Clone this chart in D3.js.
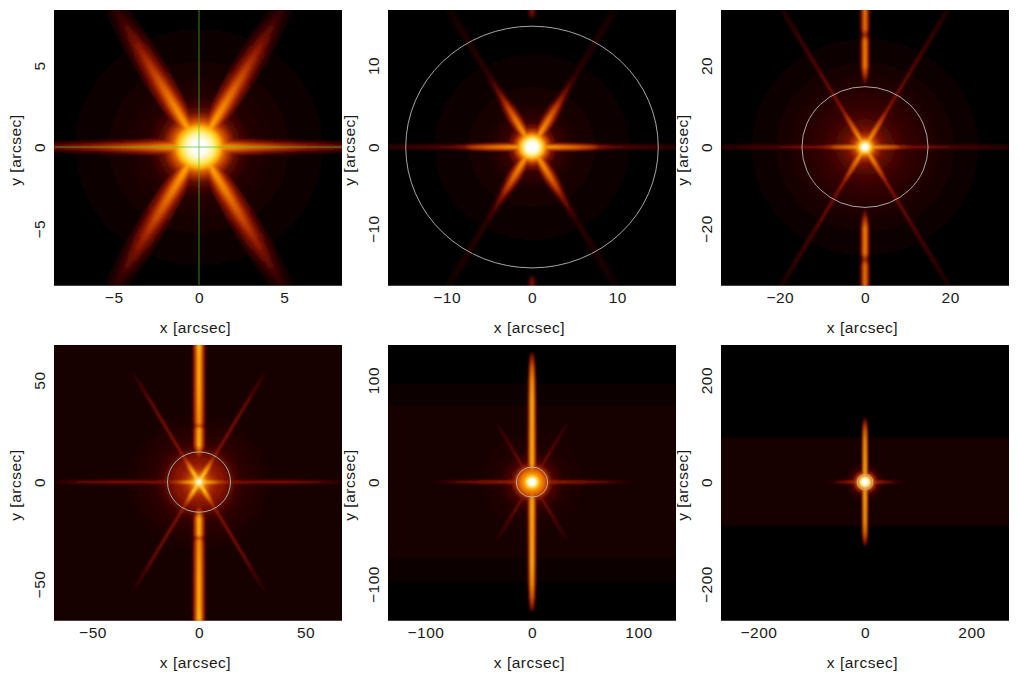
<!DOCTYPE html>
<html>
<head>
<meta charset="utf-8">
<script src="https://cdn.jsdelivr.net/npm/d3@7"></script>
<style>
  html, body { margin: 0; background: #fff; }
  text { font-family: "Liberation Sans", sans-serif; font-size: 15.5px; letter-spacing: 0.5px; fill: #1a1a1a; }
</style>
</head>
<body>
<div id="chart"></div>
<script>
// half width of every panel, arcsec
var halfRange = [8.44, 16.88, 33.8, 67.6, 135.2, 270.4];
var xTicks = [[-5, 0, 5], [-10, 0, 10], [-20, 0, 20], [-50, 0, 50], [-100, 0, 100], [-200, 0, 200]];
var yTicks = [[-5, 0, 5], [-10, 0, 10], [-20, 0, 20], [-50, 0, 50], [-100, 0, 100], [-200, 0, 200]];
var xLabel = "x [arcsec]";
var yLabel = "y [arcsec]";

// radius of the extraction circle (none in the first panel, that one has a crosshair)
var circleRadius = [null, 14.8, 14.8, 14.8, 14.8, 14.8];

// core + halo, radial profile: radius (arcsec) and colour level 0..1
var coreR = [
  [0, 0.4, 0.8, 1.05, 1.3, 1.45, 1.8, 2.2, 3, 5, 8.4],
  [0, 0.6, 1, 1.25, 1.5, 1.8, 2.3, 3, 5, 8, 14],
  [0, 0.7, 1, 1.4, 1.9, 2.6, 4, 6, 10, 15, 20, 30],
  [0, 1, 2, 3.5, 5, 7, 10, 13, 15, 20, 35],
  [0, 3, 5, 7, 10, 13, 15.5, 19, 30, 60],
  [0, 6, 9, 12, 15, 19, 25, 40]
];
var coreL = [
  [1, 1, 0.93, 0.84, 0.72, 0.56, 0.38, 0.2, 0.1, 0.05, 0],
  [1, 1, 0.9, 0.8, 0.68, 0.48, 0.28, 0.14, 0.07, 0.04, 0],
  [1, 1, 0.9, 0.78, 0.62, 0.42, 0.27, 0.19, 0.13, 0.09, 0.05, 0],
  [1, 0.95, 0.78, 0.58, 0.44, 0.36, 0.3, 0.26, 0.2, 0.12, 0.06],
  [1, 1, 0.85, 0.72, 0.6, 0.48, 0.36, 0.18, 0.09, 0.05],
  [1, 1, 0.85, 0.68, 0.5, 0.3, 0.14, 0.05]
];

// the four diagonal spikes: radius, full width (arcsec), level
var diagR = [
  [0.8, 2, 3, 4, 5, 6, 7, 8, 9, 10],
  [1, 2.5, 4, 5.5, 7, 8.5, 10.5, 13, 16, 20],
  [1, 4, 7, 10, 16, 22, 30, 36, 42],
  [2, 5, 8, 11, 14, 20, 30, 45, 55, 64],
  [6, 12, 16, 22, 35, 50, 62, 72],
  [10, 18, 26, 36, 50]
];
var diagW = [
  [1, 1.2, 1.4, 1.5, 1.6, 1.6, 1.6, 1.5, 1.4, 1.3],
  [1.1, 1.5, 1.7, 1.6, 1.3, 1.1, 1, 1, 1.1, 1.1],
  [1.6, 2.2, 1.8, 1.4, 1.2, 1.2, 1.3, 1.4, 1.4],
  [3, 4.5, 4.5, 3.5, 3, 2.6, 2.4, 2.4, 2.4, 2.4],
  [6, 6, 5, 4, 4, 4, 4, 4],
  [10, 8, 7, 7, 7]
];
var diagL = [
  [0.74, 0.68, 0.62, 0.54, 0.46, 0.38, 0.3, 0.22, 0.15, 0.08],
  [0.72, 0.66, 0.58, 0.46, 0.3, 0.2, 0.12, 0.1, 0.08, 0.04],
  [0.8, 0.62, 0.48, 0.34, 0.26, 0.22, 0.16, 0.12, 0.05],
  [0.88, 0.8, 0.66, 0.5, 0.36, 0.3, 0.28, 0.24, 0.18, 0.08],
  [0.5, 0.4, 0.32, 0.28, 0.24, 0.2, 0.14, 0.06],
  [0.36, 0.2, 0.14, 0.12, 0.06]
];

// the two horizontal spikes
var horzR = [
  [0.8, 2, 3, 4, 5, 6, 7, 8, 9],
  [1, 3, 5, 7, 8, 10, 12, 15, 18],
  [1, 4, 7, 8.5, 11, 15, 20, 28, 35],
  [2, 6, 9, 12, 15, 25, 40, 55, 65, 70],
  [6, 14, 25, 45, 65, 85, 100],
  [10, 20, 35, 50, 65, 90]
];
var horzW = [
  [1.1, 1.1, 1, 0.9, 0.9, 0.8, 0.8, 0.7, 0.7],
  [1.1, 1.1, 1, 0.9, 0.8, 0.8, 0.8, 0.8, 0.8],
  [1.4, 1.5, 1.4, 1.2, 1.2, 1.3, 1.4, 1.4, 1.4],
  [3, 3, 3, 2.6, 2.6, 2.6, 2.6, 2.6, 2.6, 2.6],
  [6, 5, 5, 4.5, 4.5, 4.5, 4.5],
  [10, 8, 8, 8, 8, 8]
];
var horzL = [
  [0.74, 0.64, 0.56, 0.5, 0.42, 0.36, 0.3, 0.26, 0.24],
  [0.72, 0.66, 0.58, 0.46, 0.3, 0.2, 0.18, 0.15, 0.09],
  [0.82, 0.66, 0.54, 0.4, 0.3, 0.28, 0.2, 0.16, 0.1],
  [0.88, 0.72, 0.55, 0.42, 0.32, 0.28, 0.28, 0.22, 0.14, 0.08],
  [0.6, 0.42, 0.36, 0.32, 0.24, 0.14, 0.05],
  [0.6, 0.42, 0.32, 0.22, 0.12, 0.04]
];

// the readout streak along y, mirrored up and down
var streakR = [
  [15.5, 16.5, 17.2],
  [15.5, 16.5, 17.2],
  [14, 16, 18, 20, 26, 27.5, 29, 34],
  [12, 15, 18, 26, 27.5, 29, 40, 50, 60, 68],
  [12, 18, 30, 50, 80, 100, 112, 120, 126],
  [10, 20, 50, 80, 100, 110, 118, 124]
];
var streakW = [
  [0.6, 0.6, 0.6],
  [0.9, 1, 1],
  [1.6, 1.8, 2, 2.1, 2.1, 2, 2.1, 2.1],
  [5, 5.5, 5.5, 5.5, 5.5, 5.5, 5.5, 5.5, 5.5, 5.5],
  [8, 8, 8, 7.5, 7, 6.5, 6, 5, 4.5],
  [11, 11, 10.5, 10, 9.5, 9, 8, 8]
];
var streakL = [
  [0, 0, 0],
  [0, 0.28, 0.2],
  [0, 0.2, 0.44, 0.62, 0.62, 0.36, 0.58, 0.58],
  [0.3, 0.48, 0.76, 0.74, 0.48, 0.68, 0.72, 0.74, 0.74, 0.78],
  [0.6, 0.76, 0.76, 0.76, 0.78, 0.72, 0.58, 0.42, 0.22],
  [0.76, 0.78, 0.76, 0.74, 0.62, 0.48, 0.34, 0.18]
];

// wide faint strip along x: y extent and level, panels 1-3 have none
var bandY = [null, null, null, [-68, 68], [-110, -72, 72, 110], [-92, -84, 84, 92]];
var bandL = [null, null, null, [0.055, 0.055], [0, 0.05, 0.05, 0], [0, 0.05, 0.05, 0]];

var W = 1019, H = 682;
var panelX = [54, 388, 721, 54, 388, 721];
var panelY = [10, 10, 10, 345, 345, 345];
var panelW = 288, panelH = 275.7;
// the image centre sits a little off the middle of some panels
var centreDx = [1, 0, 0, 1, 0, 0];
var centreDy = [-0.8, -0.8, -0.8, -0.8, -0.8, -0.8];
// softening of the image, px
var softness = [1.1, 1, 0.8, 0.9, 0.9, 0.9];

var colour = d3.scaleLinear()
  .domain([0, 0.12, 0.3, 0.5, 0.7, 0.85, 1])
  .range(["#000000", "#2e0000", "#8a1400", "#d65400", "#ff9c00", "#ffe63c", "#ffffff"]);

var svg = d3.select("#chart").append("svg")
  .attr("width", W)
  .attr("height", H)
  .style("display", "block");
var defs = svg.append("defs");

var gradCount = 0;

// one spike as a polygon along the direction angle, coloured by a gradient made of its levels
function drawArm(g, x, y, angle, r, w, l, widthFactor, levelFactor) {
  var cx = Math.cos(angle * Math.PI / 180), cy = Math.sin(angle * Math.PI / 180);
  var id = "arm" + (gradCount++);
  var r0 = r[0], rN = r[r.length - 1];
  var grad = defs.append("linearGradient").attr("id", id)
    .attr("gradientUnits", "userSpaceOnUse")
    .attr("x1", x(r0 * cx)).attr("y1", y(r0 * cy))
    .attr("x2", x(rN * cx)).attr("y2", y(rN * cy));
  grad.selectAll("stop").data(r).enter().append("stop")
    .attr("offset", function(d) { return (d - r0) / (rN - r0); })
    .attr("stop-color", function(d, i) { return colour(l[i] * levelFactor); });

  var left = r.map(function(d, i) {
    var h = w[i] * widthFactor / 2;
    return [d * cx - h * cy, d * cy + h * cx];
  });
  var right = r.map(function(d, i) {
    var h = w[i] * widthFactor / 2;
    return [d * cx + h * cy, d * cy - h * cx];
  }).reverse();
  var line = d3.line().x(function(d) { return x(d[0]); }).y(function(d) { return y(d[1]); });

  g.append("path")
    .attr("d", line(left.concat(right)) + "Z")
    .attr("fill", "url(#" + id + ")")
    .style("mix-blend-mode", "lighten");
}

// transverse profile of a spike: wide and dim outside, narrow and bright inside
var armWidths = [1, 0.7, 0.45, 0.22];
var armLevels = [0.38, 0.58, 0.8, 1];

halfRange.forEach(function(range, i) {
  var x = d3.scaleLinear().domain([-range, range])
    .range([panelX[i] + centreDx[i], panelX[i] + panelW + centreDx[i]]);
  var y = d3.scaleLinear().domain([-range, range])
    .range([panelY[i] + panelH + centreDy[i], panelY[i] + centreDy[i]]);

  defs.append("filter").attr("id", "soft" + i)
    .attr("x", "-10%").attr("y", "-10%").attr("width", "120%").attr("height", "120%")
    .append("feGaussianBlur").attr("stdDeviation", softness[i]);

  defs.append("clipPath").attr("id", "clip" + i).append("rect")
    .attr("x", panelX[i]).attr("y", panelY[i]).attr("width", panelW).attr("height", panelH);

  var panel = svg.append("g").attr("clip-path", "url(#clip" + i + ")");
  var image = panel.append("g").attr("filter", "url(#soft" + i + ")");

  image.append("rect")
    .attr("x", panelX[i] - 20).attr("y", panelY[i] - 20)
    .attr("width", panelW + 40).attr("height", panelH + 40)
    .attr("fill", "#000");

  // faint strip
  if (bandY[i]) {
    var bid = "band" + i;
    var by = bandY[i], y0 = by[0], y1 = by[by.length - 1];
    var bgrad = defs.append("linearGradient").attr("id", bid)
      .attr("gradientUnits", "userSpaceOnUse")
      .attr("x1", 0).attr("x2", 0).attr("y1", y(y0)).attr("y2", y(y1));
    bgrad.selectAll("stop").data(by).enter().append("stop")
      .attr("offset", function(d) { return (d - y0) / (y1 - y0); })
      .attr("stop-color", function(d, k) { return colour(bandL[i][k]); });
    image.append("rect")
      .attr("x", panelX[i] - 20).attr("width", panelW + 40)
      .attr("y", y(y1)).attr("height", y(y0) - y(y1))
      .attr("fill", "url(#" + bid + ")")
      .style("mix-blend-mode", "lighten");
  }

  // spikes
  [60, 120, 240, 300].forEach(function(a) {
    armWidths.forEach(function(wf, k) {
      drawArm(image, x, y, a, diagR[i], diagW[i], diagL[i], wf, armLevels[k]);
    });
  });
  [0, 180].forEach(function(a) {
    armWidths.forEach(function(wf, k) {
      drawArm(image, x, y, a, horzR[i], horzW[i], horzL[i], wf, armLevels[k]);
    });
  });
  [90, 270].forEach(function(a) {
    armWidths.forEach(function(wf, k) {
      drawArm(image, x, y, a, streakR[i], streakW[i], streakL[i], wf, armLevels[k]);
    });
  });

  // core and halo
  var cr = coreR[i], rMax = cr[cr.length - 1];
  var cid = "core" + i;
  var cgrad = defs.append("radialGradient").attr("id", cid);
  cgrad.selectAll("stop").data(cr).enter().append("stop")
    .attr("offset", function(d) { return d / rMax; })
    .attr("stop-color", function(d, k) { return colour(coreL[i][k]); });
  image.append("ellipse")
    .attr("cx", x(0)).attr("cy", y(0))
    .attr("rx", x(rMax) - x(0)).attr("ry", y(0) - y(rMax))
    .attr("fill", "url(#" + cid + ")")
    .style("mix-blend-mode", "lighten");

  // overlays, not blurred
  if (circleRadius[i]) {
    panel.append("ellipse")
      .attr("cx", x(0)).attr("cy", y(0))
      .attr("rx", x(circleRadius[i]) - x(0)).attr("ry", y(0) - y(circleRadius[i]))
      .attr("fill", "none")
      .attr("stroke", "#b8b8b8")
      .attr("stroke-width", 0.9);
  } else {
    panel.append("line")
      .attr("x1", x(0)).attr("x2", x(0)).attr("y1", y(-range)).attr("y2", y(range))
      .attr("stroke", "#4fbf2a").attr("stroke-width", 0.7);
    panel.append("line")
      .attr("x1", x(-range)).attr("x2", x(range)).attr("y1", y(0)).attr("y2", y(0))
      .attr("stroke", "#4fbf2a").attr("stroke-width", 0.7);
  }

  // axes, labels only
  var xAxis = svg.append("g")
    .attr("transform", "translate(0," + (panelY[i] + panelH) + ")")
    .call(d3.axisBottom(x).tickValues(xTicks[i]).tickSize(0));
  xAxis.select(".domain").remove();
  xAxis.selectAll("text").attr("y", 17.6).attr("dy", 0).style("font-size", "15.5px");

  var yAxis = svg.append("g")
    .attr("transform", "translate(" + panelX[i] + ",0)")
    .call(d3.axisLeft(y).tickValues(yTicks[i]).tickSize(0));
  yAxis.select(".domain").remove();
  yAxis.selectAll("text")
    .attr("x", 0).attr("dy", 0)
    .attr("text-anchor", "middle")
    .attr("transform", "translate(-9,0) rotate(-90)")
    .style("font-size", "15.5px");

  svg.append("text")
    .attr("x", x(0) - 2.5 - centreDx[i]).attr("y", panelY[i] + panelH + 47.6)
    .attr("text-anchor", "middle")
    .text(xLabel);
  svg.append("text")
    .attr("transform", "translate(" + (panelX[i] - 33) + "," + (y(0) + 3) + ") rotate(-90)")
    .attr("text-anchor", "middle")
    .text(yLabel);
});
</script>
</body>
</html>
